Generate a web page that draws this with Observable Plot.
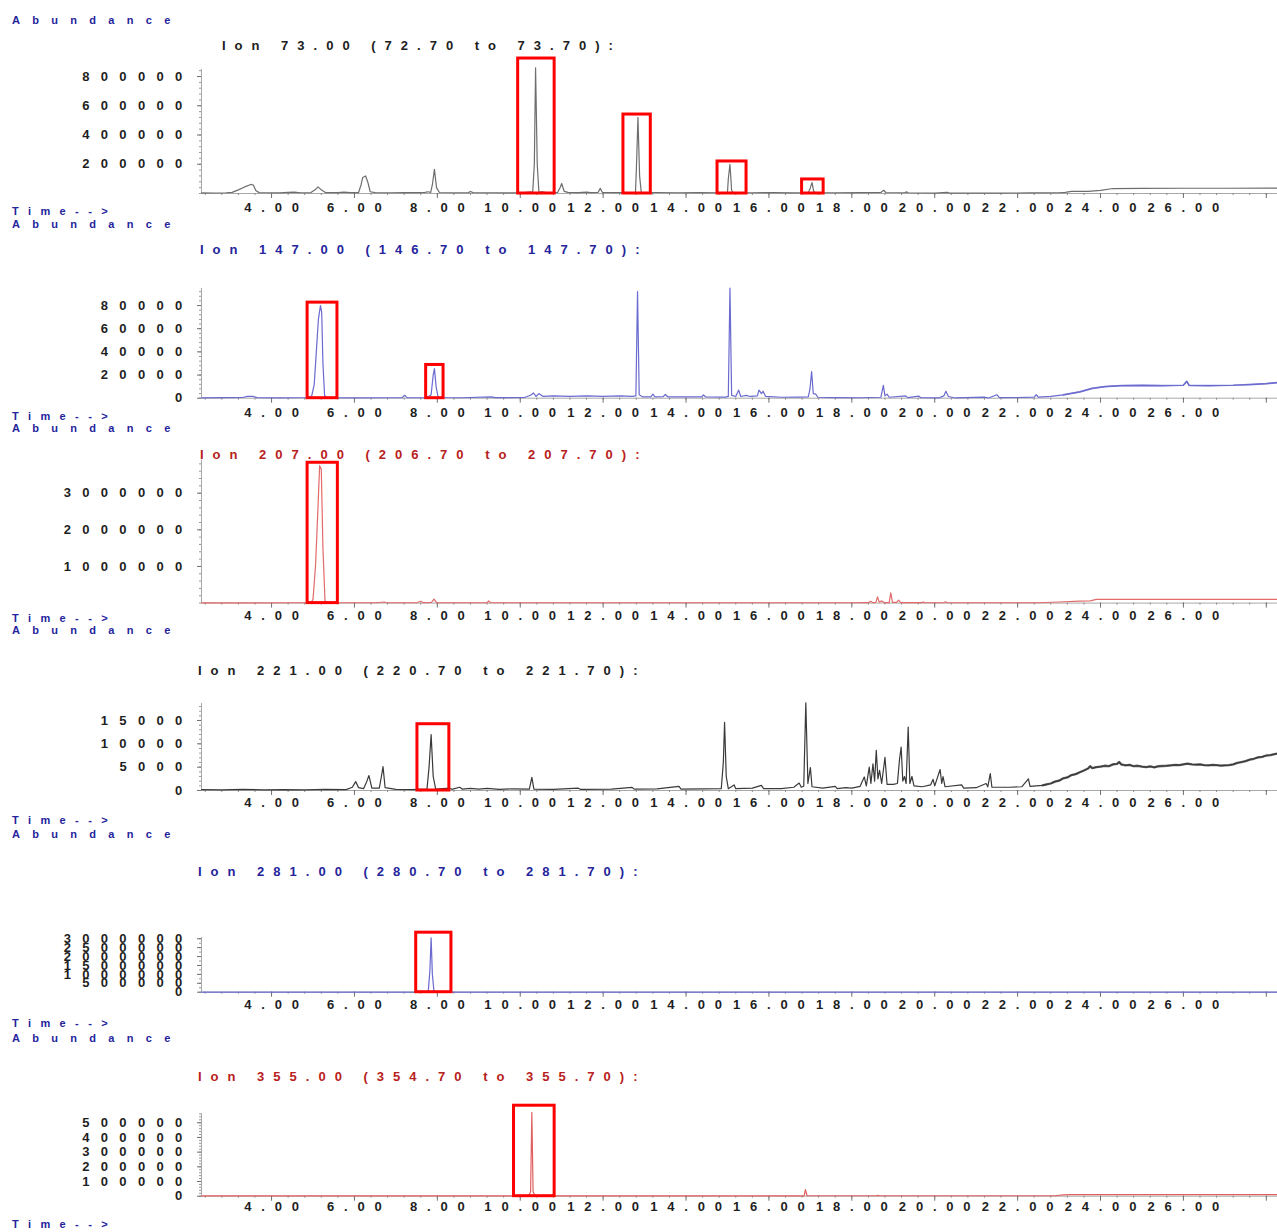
<!DOCTYPE html>
<html><head><meta charset="utf-8">
<script src="https://cdn.jsdelivr.net/npm/d3@7"></script>
<script src="https://cdn.jsdelivr.net/npm/@observablehq/plot@0.6"></script>
<style>
html,body{margin:0;padding:0;background:#fff;}
#wrap{position:relative;width:1277px;height:1232px;overflow:hidden;background:#fff;}
.lbl{position:absolute;white-space:nowrap;font-family:"Liberation Sans",Arial,sans-serif;font-weight:bold;}
.abund,.time{font-size:11px;line-height:14px;color:#24249c;}
.abund{letter-spacing:12.3px;}
.time{letter-spacing:9.4px;}
.ion{font-size:13px;line-height:16px;letter-spacing:9px;}
svg.panel{position:absolute;left:0;}
svg.panel text{font-family:"Liberation Sans",Arial,sans-serif;font-weight:bold;}
svg.panel g[aria-label="y-axis tick label"] text{letter-spacing:11.3px;}
svg.panel g[aria-label="x-axis tick label"] text{letter-spacing:9.8px;}
</style></head>
<body><div id="wrap"></div>
<script>
// ---------- data: [retention time (min), abundance] ----------
const ion73 = [[2.31,4000],[2.6,3500],[2.9,5000],[3.05,8000],[3.2,25000],[3.35,45000],[3.5,62000],[3.56,58000],[3.62,20000],[3.7,6000],[3.9,5000],[4.2,4500],[4.4,8000],[4.55,9000],[4.7,5000],[4.95,6000],[5.05,25000],[5.12,45000],[5.2,25000],[5.3,6000],[5.6,5500],[5.75,9000],[5.9,6000],[6.1,6500],[6.16,60000],[6.2,110000],[6.27,120000],[6.33,70000],[6.38,12000],[6.5,6000],[6.9,5000],[7.2,6000],[7.5,5500],[7.7,8000],[7.78,12000],[7.84,7000],[7.88,60000],[7.93,165000],[7.98,40000],[8.05,7000],[8.4,5000],[8.75,6000],[8.8,14000],[8.86,6000],[9.3,5000],[9.8,4500],[10.1,6000],[10.25,12000],[10.3,6000],[10.34,200000],[10.37,860000],[10.41,200000],[10.45,10000],[10.55,12000],[10.62,6000],[10.9,7000],[10.96,40000],[11.0,68000],[11.06,15000],[11.15,8000],[11.4,6000],[11.6,10000],[11.7,6000],[11.88,8000],[11.93,35000],[11.98,8000],[12.3,6000],[12.6,7000],[12.78,8000],[12.8,150000],[12.84,520000],[12.88,120000],[12.92,8000],[13.3,7000],[13.8,5000],[14.3,6000],[14.8,5000],[15.0,8000],[15.02,100000],[15.06,200000],[15.1,20000],[15.14,6000],[15.6,5000],[16.1,6000],[16.6,4500],[16.95,6000],[17.0,40000],[17.04,75000],[17.08,15000],[17.12,5000],[17.6,5000],[18.2,6000],[18.7,7000],[18.77,22000],[18.82,7000],[19.28,5000],[19.32,11000],[19.36,5000],[20.0,3000],[20.3,8000],[20.36,3000],[21.0,2500],[21.6,3000],[22.3,4000],[23.0,5000],[23.15,8000],[23.3,14000],[23.7,15000],[24.0,22000],[24.3,34000],[25.0,35000],[26.0,36000],[27.0,36000],[28.27,37000]];

const ion147 = [[2.31,300],[2.8,500],[3.3,600],[3.42,1500],[3.55,1600],[3.65,500],[4.2,300],[4.6,400],[4.9,600],[4.97,2000],[5.03,12000],[5.08,40000],[5.13,68000],[5.18,80000],[5.21,74000],[5.24,30000],[5.28,2000],[5.35,500],[6.0,300],[6.8,400],[7.15,500],[7.21,2500],[7.27,500],[7.75,400],[7.85,3000],[7.9,20000],[7.93,25500],[7.97,10000],[8.02,600],[8.6,400],[9.3,1200],[9.4,500],[10.1,600],[10.25,2500],[10.32,4500],[10.38,1500],[10.45,4000],[10.55,1500],[10.8,2000],[11.2,1500],[11.6,2000],[12.0,1500],[12.4,2000],[12.7,1500],[12.79,2000],[12.83,92000],[12.87,3000],[12.95,1200],[13.15,1200],[13.2,3500],[13.25,1200],[13.45,1300],[13.5,3200],[13.56,1200],[14.0,1100],[14.38,1200],[14.42,2800],[14.47,1200],[14.95,1000],[15.02,1500],[15.06,95000],[15.1,2500],[15.2,1500],[15.27,7000],[15.32,1500],[15.45,2500],[15.55,1500],[15.72,2000],[15.76,7000],[15.82,4000],[15.86,6000],[15.92,1500],[16.3,800],[16.7,1000],[16.95,1200],[16.99,8000],[17.03,23000],[17.07,4000],[17.13,3500],[17.18,800],[17.6,500],[18.2,400],[18.7,800],[18.76,11000],[18.8,2000],[18.85,3500],[18.9,800],[19.3,2000],[19.35,500],[19.62,1800],[19.66,400],[20.1,200],[20.22,2000],[20.27,6000],[20.33,1500],[20.5,200],[21.2,1000],[21.3,200],[21.5,3000],[21.56,500],[22.0,600],[22.4,1000],[22.45,3000],[22.5,1000],[22.8,1500],[23.1,2800],[23.5,5500],[23.8,8500],[24.1,10000],[24.5,10800],[25.0,11000],[25.5,10800],[26.0,11200],[26.08,14500],[26.14,11000],[26.6,10800],[27.2,11200],[27.7,12000],[28.0,12500],[28.27,13500]];

const ion207 = [[2.31,8000],[3.5,8000],[4.5,9000],[4.95,10000],[5.0,100000],[5.06,1000000],[5.12,2600000],[5.16,3750000],[5.2,3650000],[5.24,1500000],[5.29,60000],[5.35,10000],[6.5,9000],[6.72,30000],[6.78,9000],[7.5,10000],[7.6,50000],[7.66,12000],[7.86,20000],[7.92,110000],[7.98,15000],[8.8,9000],[9.2,12000],[9.24,60000],[9.28,10000],[12.0,9000],[15.0,9000],[18.0,10000],[18.4,12000],[18.45,50000],[18.5,15000],[18.58,20000],[18.62,170000],[18.66,25000],[18.72,60000],[18.78,15000],[18.9,15000],[18.94,280000],[18.98,20000],[19.08,20000],[19.13,80000],[19.18,12000],[19.7,12000],[19.72,35000],[19.76,10000],[20.22,10000],[20.26,35000],[20.3,10000],[21.0,9000],[22.5,10000],[23.0,30000],[23.5,55000],[23.75,60000],[23.9,100000],[25.0,100000],[28.27,100000]];

const ion221 = [[2.31,200],[2.8,150],[3.3,250],[3.8,150],[4.3,200],[4.8,150],[5.3,250],[5.8,200],[5.95,700],[6.03,1900],[6.1,600],[6.22,400],[6.3,2000],[6.35,3200],[6.42,500],[6.6,500],[6.65,3000],[6.69,5100],[6.74,600],[7.0,250],[7.4,200],[7.75,300],[7.8,5000],[7.85,12000],[7.9,3000],[7.96,300],[8.3,500],[8.35,250],[8.54,700],[8.6,300],[8.8,450],[9.0,300],[9.2,450],[9.5,250],[9.8,350],[10.22,300],[10.28,2800],[10.33,300],[10.8,250],[11.4,500],[11.45,250],[12.2,300],[12.7,650],[12.75,300],[13.3,350],[13.83,900],[13.88,300],[14.4,350],[14.85,400],[14.9,6000],[14.93,14600],[14.97,3000],[15.02,400],[15.16,1200],[15.2,400],[15.6,500],[15.82,1100],[15.87,400],[16.3,400],[16.6,700],[16.73,1600],[16.78,700],[16.84,900],[16.89,18800],[16.94,1500],[17.0,4900],[17.04,800],[17.3,500],[17.6,900],[17.65,400],[17.85,600],[18.0,500],[18.2,900],[18.3,2900],[18.35,1000],[18.42,5000],[18.46,1500],[18.51,5700],[18.55,2000],[18.59,8600],[18.63,2500],[18.67,4300],[18.72,1500],[18.8,7100],[18.85,1300],[19.0,1300],[19.1,1500],[19.15,6600],[19.19,9300],[19.23,2000],[19.27,3000],[19.31,1500],[19.36,13600],[19.4,1500],[19.45,3000],[19.5,1000],[19.7,800],[19.9,1200],[19.96,2400],[20.0,1000],[20.13,4500],[20.17,1500],[20.2,3000],[20.25,800],[20.65,1200],[20.7,500],[21.0,600],[21.24,1500],[21.28,800],[21.34,3600],[21.38,700],[21.8,700],[22.1,800],[22.26,2500],[22.3,900],[22.6,1100],[22.7,1300],[22.8,1500],[22.9,1900],[23.0,2100],[23.1,2600],[23.2,2800],[23.3,3300],[23.4,3500],[23.5,3900],[23.6,4300],[23.7,4700],[23.75,5200],[23.8,4800],[23.9,5000],[24.0,5100],[24.1,5300],[24.2,5200],[24.3,5600],[24.4,5700],[24.45,6100],[24.5,5600],[24.6,5400],[24.7,5500],[24.8,5200],[24.9,5300],[25.0,5100],[25.1,5000],[25.2,5150],[25.3,4950],[25.4,5200],[25.5,5250],[25.6,5300],[25.7,5400],[25.8,5500],[25.9,5450],[26.0,5600],[26.1,5750],[26.2,5600],[26.3,5550],[26.4,5600],[26.5,5450],[26.6,5400],[26.7,5500],[26.8,5450],[26.9,5350],[27.0,5400],[27.1,5450],[27.2,5600],[27.3,5900],[27.4,6100],[27.5,6300],[27.6,6600],[27.7,6800],[27.8,7100],[27.9,7200],[28.0,7500],[28.1,7600],[28.2,7800],[28.27,7900]];

const ion281 = [[2.31,5000],[7.7,5000],[7.78,20000],[7.82,1200000],[7.85,3050000],[7.88,1000000],[7.92,20000],[8.0,5000],[28.27,5000]];

const ion355 = [[2.31,2000],[10.2,2000],[10.25,30000],[10.28,570000],[10.31,30000],[10.36,2000],[16.85,2000],[16.88,45000],[16.92,3000],[18.6,3000],[18.63,6000],[18.66,3000],[22.9,3000],[23.1,9000],[23.3,11000],[28.27,11000]];

// highlighted peaks: [t start, t end, abundance low, abundance high]
const box73 = [[9.95,10.83,0,923000],[12.49,13.15,0,540000],[14.76,15.46,0,219000],[16.80,17.32,0,96000]];
const box147 = [[4.87,5.59,0,82500],[7.73,8.15,0,28700]];
const box207 = [[4.87,5.6,0,3830000]];
const box221 = [[7.52,8.29,0,14200]];
const box281 = [[7.49,8.34,0,3340000]];
const box355 = [[9.85,10.83,0,616000]];

// y tick values
const ticks73 = [200000,400000,600000,800000];
const ticks147 = [0,20000,40000,60000,80000];
const ticks207 = [1000000,2000000,3000000];
const ticks221 = [0,5000,10000,15000];
const ticks281 = [0,500000,1000000,1500000,2000000,2500000,3000000];
const ticks355 = [0,100000,200000,300000,400000,500000];

const titles = ["Ion 73.00 (72.70 to 73.70):","Ion 147.00 (146.70 to 147.70):","Ion 207.00 (206.70 to 207.70):","Ion 221.00 (220.70 to 221.70):","Ion 281.00 (280.70 to 281.70):","Ion 355.00 (354.70 to 355.70):"];

const xDomain = [2.31, 28.27];
const xLabels = d3.range(4, 26.01, 2);
const xMajor = d3.range(4, 28.01, 2);
const xMinor = d3.range(2.4, 28.27, 0.4);

// ---------- layout ----------
const BLUE = "#24249c", RED = "#b82020", BLACK = "#202020";
const panels = [
  {data: ion73,  boxes: box73,  ticks: ticks73,  yMax: 848000,  minor: 40000,  color: "#6e6e6e", tcol: BLACK, top: 0,    h: 222, mt: 69,  mb: 29,   gap: 14,   tx: 222, ty: 46,   ay: 20,   ey: 211, fuzzFrom: null, fuzzW: 0},
  {data: ion147, boxes: box147, ticks: ticks147, yMax: 94700,   minor: 4000,   color: "#6a6ad0", tcol: BLUE,  top: 222,  h: 202, mt: 66,  mb: 26.3, gap: 14,   tx: 200, ty: 250,  ay: 224,  ey: 416, fuzzFrom: 23.0, fuzzW: 1.7},
  {data: ion207, boxes: box207, ticks: ticks207, yMax: 3900000, minor: 200000, color: "#e26a6a", tcol: RED,   top: 424,  h: 204, mt: 35.7,mb: 25.4, gap: 12,   tx: 200, ty: 455,  ay: 428,  ey: 618, fuzzFrom: null, fuzzW: 0},
  {data: ion221, boxes: box221, ticks: ticks221, yMax: 18640,   minor: 1000,   color: "#3a3a3a", tcol: BLACK, top: 628,  h: 202, mt: 75,  mb: 40,   gap: 11.5, tx: 198, ty: 671,  ay: 630,  ey: 820, fuzzFrom: 22.6, fuzzW: 2.3},
  {data: ion281, boxes: box281, ticks: ticks281, yMax: 3070000, minor: 250000, color: "#6a6ad0", tcol: BLUE,  top: 830,  h: 202, mt: 107, mb: 40.3, gap: 12,   tx: 198, ty: 872,  ay: 834,  ey: 1023, fuzzFrom: null, fuzzW: 0},
  {data: ion355, boxes: box355, ticks: ticks355, yMax: 563000,  minor: 20000,  color: "#e06060", tcol: RED,   top: 1032, h: 200, mt: 81,  mb: 36.3, gap: 10,   tx: 198, ty: 1077, ay: 1038, ey: 1224, fuzzFrom: null, fuzzW: 0}
];

const wrap = document.getElementById("wrap");
function addLabel(cls, text, x, y, color) {
  const d = document.createElement("div");
  d.className = "lbl " + cls;
  d.textContent = text;
  d.style.left = x + "px";
  d.style.top = y + "px";
  if (color) d.style.color = color;
  wrap.appendChild(d);
}

panels.forEach((p, i) => {
  const yMinor = d3.range(0, p.yMax, p.minor);
  const fuzz = p.fuzzFrom == null ? [] : p.data.filter(d => d[0] >= p.fuzzFrom);
  const svg = Plot.plot({
    width: 1277, height: p.h,
    marginLeft: 201, marginRight: 0, marginTop: p.mt, marginBottom: p.mb,
    x: {domain: xDomain},
    y: {domain: [0, p.yMax]},
    style: {background: "transparent", overflow: "visible"},
    marks: [
      Plot.ruleY([0], {stroke: "#a8a8a8", strokeWidth: 1}),
      Plot.ruleX([xDomain[0]], {stroke: "#a8a8a8", strokeWidth: 1}),
      Plot.axisX({ticks: xMinor, tickSize: 2, stroke: "#8a8a8a", fill: "none", label: null}),
      Plot.axisX({ticks: xMajor, tickSize: 5, stroke: "#707070", fill: "none", label: null}),
      Plot.axisX({ticks: xLabels, tickSize: 0, tickPadding: p.gap - 4.7, tickFormat: d => d.toFixed(2), fontSize: 13, fill: "#1e1e1e", dx: 4.9, label: null}),
      Plot.axisY({ticks: yMinor, tickSize: 2, stroke: "#9a9a9a", fill: "none", label: null}),
      Plot.axisY({ticks: p.ticks, tickSize: 4, stroke: "#707070", fill: "none", label: null}),
      Plot.axisY({ticks: p.ticks, tickSize: 0, tickPadding: 8, tickFormat: d3.format("d"), fontSize: 13, fill: "#1e1e1e", label: null}),
      Plot.line(fuzz, {x: d => d[0], y: d => d[1], stroke: p.color, strokeWidth: p.fuzzW, strokeOpacity: 0.8}),
      Plot.line(p.data, {x: d => d[0], y: d => d[1], stroke: p.color, strokeWidth: 1.2}),
      Plot.rect(p.boxes, {x1: d => d[0], x2: d => d[1], y1: d => d[2], y2: d => d[3], stroke: "#ff0000", strokeWidth: 3, fill: "none"})
    ]
  });
  d3.select(svg).classed("panel", true).style("top", p.top + "px");
  wrap.appendChild(svg);
  addLabel("abund", "Abundance", 12, p.ay - 7);
  addLabel("ion", titles[i], p.tx, p.ty - 8, p.tcol);
  addLabel("time", "Time-->", 12, p.ey - 7);
});
</script>
</body></html>
